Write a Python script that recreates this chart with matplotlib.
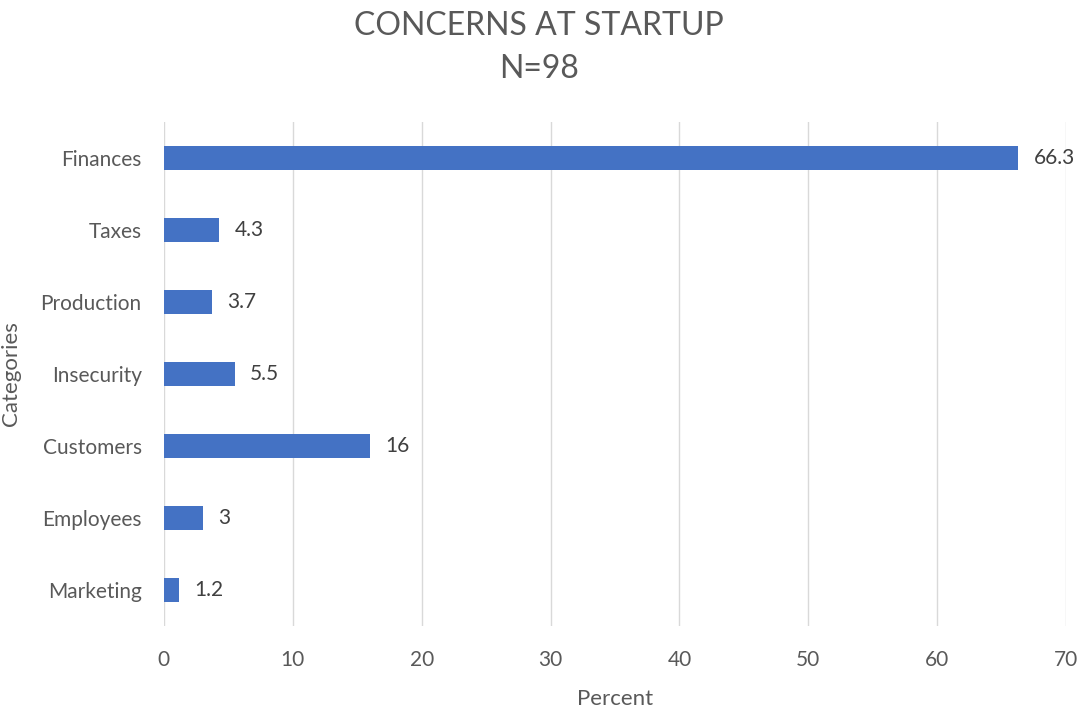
import matplotlib
matplotlib.use("Agg")
import matplotlib.pyplot as plt

categories = ["Finances", "Taxes", "Production", "Insecurity", "Customers", "Employees", "Marketing"]
values = [66.3, 4.3, 3.7, 5.5, 16, 3, 1.2]
value_labels = ["66.3", "4.3", "3.7", "5.5", "16", "3", "1.2"]
xticks = [0, 10, 20, 30, 40, 50, 60, 70]

plt.rcParams['font.family'] = ['Lato', 'DejaVu Sans']
fig = plt.figure(figsize=(10.78, 7.07), dpi=100)
ax = fig.add_axes([0.152, 0.1146, 0.837, 0.7128])

ypos = list(range(len(categories)))
ax.barh(ypos, values, height=0.33, color="#4472C4", zorder=3)
for y, v, lab in zip(ypos, values, value_labels):
    ax.annotate(lab, (v, y), xytext=(11, 0), textcoords="offset points",
                va="center", ha="left", fontsize=15, color="#404040")

ax.set_ylim(len(categories) - 0.5, -0.5)
ax.set_yticks(ypos)
ax.set_yticklabels(categories)
ax.set_xlim(0, 70)
ax.set_xticks(xticks)
ax.grid(axis="x", color="#D9D9D9", linewidth=1, zorder=0)
for s in ["top", "right", "bottom", "left"]:
    ax.spines[s].set_visible(False)
ax.tick_params(axis="both", length=0, labelsize=15, labelcolor="#595959")
ax.tick_params(axis="y", pad=16)
ax.tick_params(axis="x", pad=17)
ax.set_xlabel("Percent", fontsize=16, color="#595959", labelpad=14)
ax.set_ylabel("Categories", fontsize=16, color="#595959", labelpad=14)
fig.text(0.5, 0.985, "CONCERNS AT STARTUP\nN=98", ha="center", va="top",
         fontsize=23, color="#595959", linespacing=1.55)

fig.savefig("out.png", dpi=100)
